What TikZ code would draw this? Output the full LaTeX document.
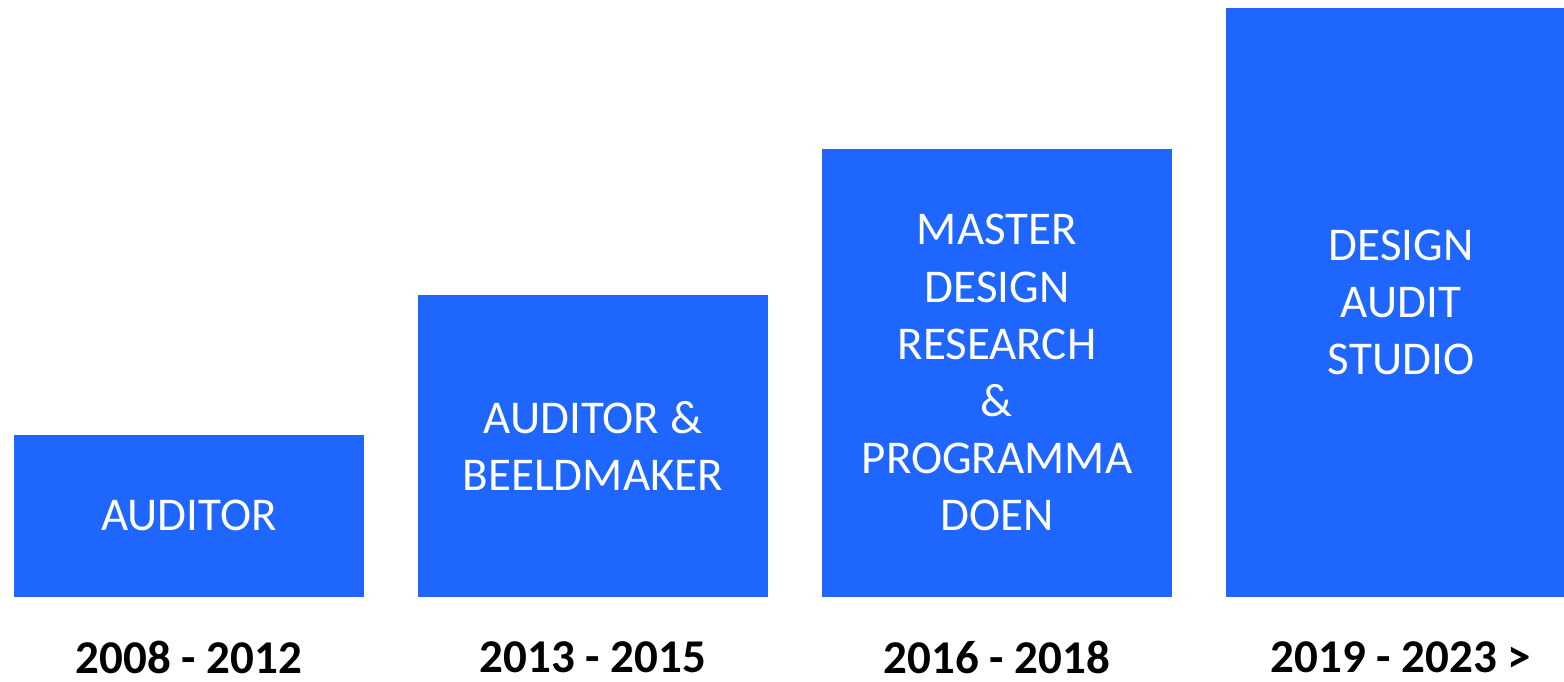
\documentclass[tikz,border=0pt]{standalone}
\usepackage{fontspec}
\setmainfont{Carlito}
\usetikzlibrary{positioning}
\definecolor{barblue}{HTML}{1F66FF}

\begin{document}
\begin{tikzpicture}[x=1pt, y=-1pt, node distance={44pt},
  bar/.style = {fill=barblue, minimum width=350pt, anchor=south, align=center,
    text=white, font=\fontsize{47}{57.2}\selectfont},
  year/.style = {inner sep=0pt, font=\fontsize{47}{57}\selectfont\bfseries}]
\useasboundingbox (0,0) rectangle (1564,681);
\clip (0,0) rectangle (1564,681);
% bars, all standing on the same base line
\node[bar, minimum height=162pt] (p1) at (189,597) {AUDITOR};
\node[bar, minimum height=302pt] (p2) at (593,597) {AUDITOR \&\\BEELDMAKER};
\node[bar, minimum height=448pt] (p3) at (997,597) {MASTER\\DESIGN\\RESEARCH\\\&\\PROGRAMMA\\DOEN};
\node[bar, minimum height=589pt] (p4) at (1401,597) {DESIGN\\AUDIT\\STUDIO};
% years under the bars
\node[year] (y1) [below=of p1] {2008 - 2012};
\node[year] (y2) [below=of p2] {2013 - 2015};
\node[year] (y3) [below=of p3] {2016 - 2018};
\node[year] (y4) [below=of p4] {2019 - 2023 >};
\end{tikzpicture}
\end{document}
